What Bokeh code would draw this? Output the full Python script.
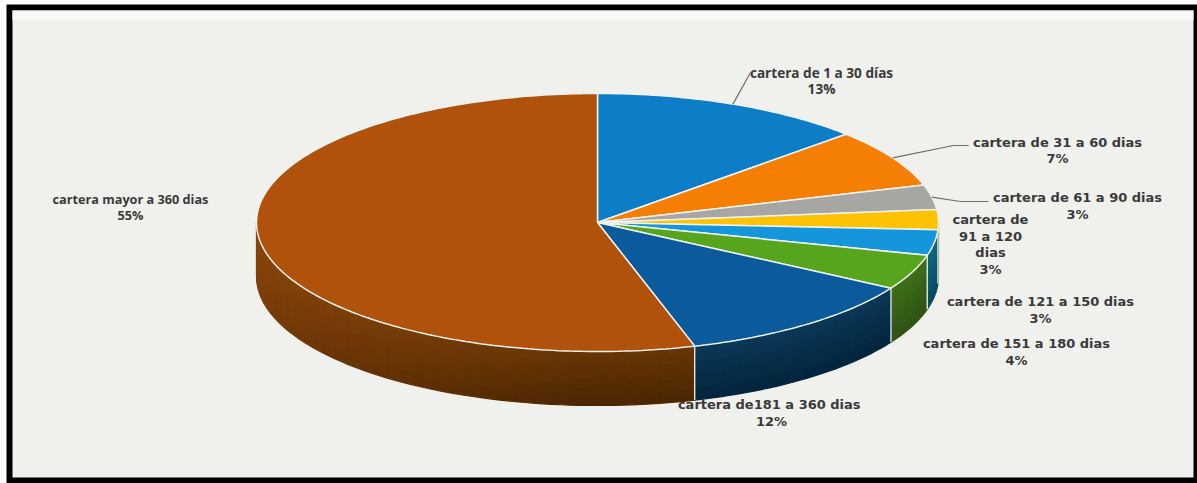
import numpy as np
from bokeh.plotting import figure
from bokeh.models import Range1d
from bokeh.core.properties import value
from bokeh.embed import file_html
from bokeh.resources import INLINE

categories = ["cartera de 1 a 30 días", "cartera de 31 a 60 dias", "cartera de 61 a 90 dias",
              "cartera de 91 a 120 dias", "cartera de 121 a 150 dias", "cartera de 151 a 180 dias",
              "cartera de181 a 360  dias", "cartera mayor a 360 dias"]
printed_percent = [13, 7, 3, 3, 3, 4, 12, 55]
shares = [13.0, 7.3, 3.1, 2.5, 3.2, 4.4, 11.9, 54.6]
top_colors = ["#0c7dc6", "#f57e04", "#a6a6a2", "#fcc203", "#1596dc", "#56a51c", "#0a5a9c", "#b0520c"]
wall_hi = ["#0f4f78", "#8f4a07", "#626262", "#987305", "#0f6a80", "#40701a", "#0b3858", "#683606"]
wall_lo = ["#0f4f78", "#8f4a07", "#626262", "#987305", "#09495e", "#2f5214", "#03253d", "#4a2602"]

CX, CY, RX, RY, DEPTH = 597, 222, 341, 129, 54
W, H = 1197, 483

p = figure(width=W, height=H, x_range=Range1d(0, W), y_range=Range1d(H, 0),
           toolbar_location=None, output_backend="svg", min_border=0)
p.axis.visible = False
p.grid.visible = False
p.outline_line_color = None
p.background_fill_color = "white"
p.border_fill_color = "white"


def rim(t_deg):
    t = np.radians(np.asarray(t_deg, dtype=float))
    return CX + RX * np.sin(t), CY - RY * np.cos(t)


def blend(a, b, f):
    ca = [int(a[i:i + 2], 16) for i in (1, 3, 5)]
    cb = [int(b[i:i + 2], 16) for i in (1, 3, 5)]
    return "#%02x%02x%02x" % tuple(int(round(x + (y - x) * f)) for x, y in zip(ca, cb))


# scanned-page frame
p.quad(left=6, right=1197, top=4, bottom=483, fill_color="black", line_color=None)
p.quad(left=12, right=1193, top=10, bottom=477, fill_color="#f0f0ed", line_color=None)
p.quad(left=12, right=1193, top=10, bottom=20, fill_color="#f8f8f6", line_color=None)

edges = np.concatenate([[0], np.cumsum(shares)]) * 3.6

# side wall, only where it faces the viewer
xs, ys, cols = [], [], []
STRIPS = 10
for i in range(len(shares)):
    a, b = max(edges[i], 90), min(edges[i + 1], 270)
    if b <= a:
        continue
    n = max(1, int((b - a) / 3))
    tt = np.linspace(a, b, n + 1)
    for j in range(n):
        x0, y0 = rim(np.linspace(tt[j], tt[j + 1], 3))
        for s in range(STRIPS):
            d0, d1 = DEPTH * s / STRIPS, DEPTH * (s + 1) / STRIPS
            xs.append(list(x0) + list(x0[::-1]))
            ys.append(list(y0 + d0) + list(y0[::-1] + d1))
            side = np.clip((tt[j] - 180) / 90, 0, 1) * 0.6 if i == 7 else 0
            cols.append(blend(blend(wall_hi[i], wall_lo[i], (s + 0.5) / STRIPS), "#a8520f", side))
p.patches(xs, ys, fill_color=cols, line_color=cols, line_width=1.2)

# white seams on the wall
for e in edges:
    if 90 <= e <= 270:
        ex, ey = rim(e)
        p.line([ex, ex], [ey, ey + DEPTH], line_color="#dfe6e4", line_width=1.4)

# top faces
for i in range(len(shares)):
    tx, ty = rim(np.linspace(edges[i], edges[i + 1], max(4, int(shares[i] * 3.6))))
    p.patch(np.r_[CX, tx], np.r_[CY, ty], fill_color=top_colors[i],
            line_color="#eef2ee", line_width=1.5)

# leader lines
mids = (edges[:-1] + edges[1:]) / 2
for idx, lx, ly in [(0, [750], [72]), (1, [953, 968], [145, 145]), (2, [960, 988], [201, 201])]:
    sx, sy = rim(mids[idx])
    p.line(np.r_[sx, lx], np.r_[sy, ly], line_color="#6e6e6e", line_width=1.2)

label_spots = [(821, [72, 88], "Open Sans", 13.6), (1057, [142, 158], "DejaVu Sans", 13),
               (1077, [197, 214], "DejaVu Sans", 13), (990, [219, 236, 252, 269], "DejaVu Sans", 13),
               (1040, [301, 318], "DejaVu Sans", 13), (1016, [343, 360], "DejaVu Sans", 13),
               (771, [404, 421], "DejaVu Sans", 13), (130, [198, 214], "Open Sans", 12.7)]
for i, (lx, lys, font, fs) in enumerate(label_spots):
    pct = f"{printed_percent[i]}%"
    if i == 3:
        lines = ["cartera de", "91 a 120", "dias", pct]
    else:
        lines = [categories[i], pct]
    p.text([lx] * len(lines), lys, text=lines, text_font=value(font), text_font_style="bold",
           text_font_size=f"{fs}px", text_color="#3a3a3a", text_align="center", text_baseline="middle")

open("out.html", "w").write(file_html(p, INLINE))
